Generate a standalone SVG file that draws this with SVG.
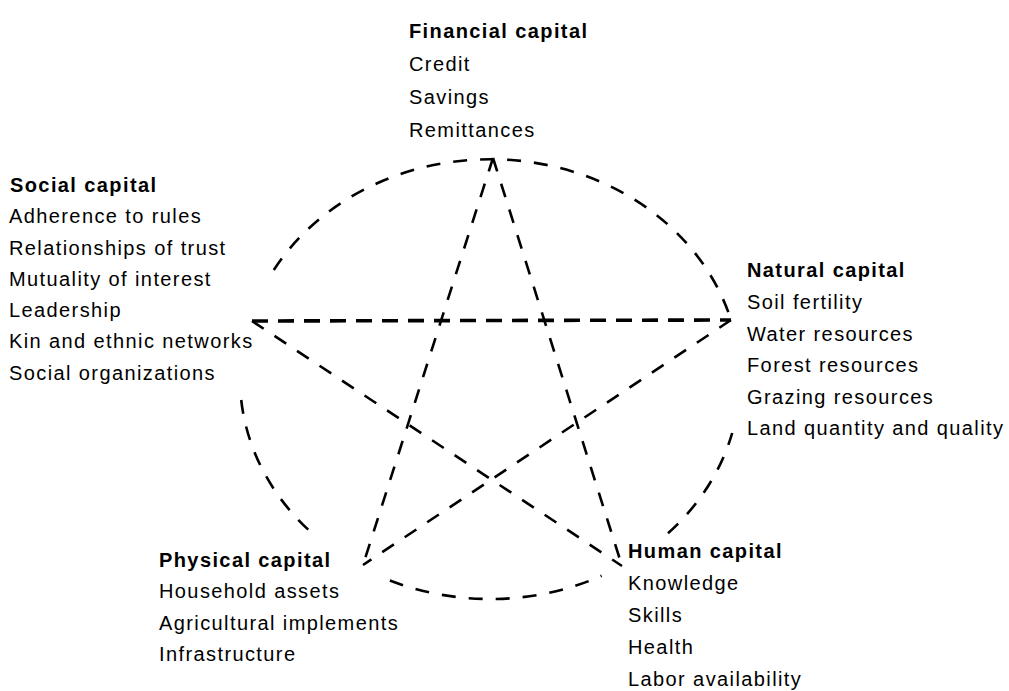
<svg xmlns="http://www.w3.org/2000/svg" width="1009" height="691" viewBox="0 0 1009 691">
<style>
text{font-family:"Liberation Sans",Arial,sans-serif;font-size:20px;fill:#000;letter-spacing:1.4px}
.t{font-weight:bold}
.d{fill:none;stroke:#000;stroke-width:2.6;stroke-dasharray:14 13}
.h{stroke-width:3.6;stroke-dasharray:16 10}
</style>
<rect width="1009" height="691" fill="#fff"/>
<g id="connectors">
<path class="d" d="M273.8,270 A250,221 0 0 1 731,320"/>
<path class="d" d="M241.2,400 A250,221 0 0 0 308.4,529.8"/>
<path class="d" d="M389.9,580.5 A250,221 0 0 0 601.6,575.8"/>
<path class="d" d="M668,533.2 A250,221 0 0 0 732.2,433"/>
<path class="d" d="M493,158 L363,565"/>
<path class="d" d="M493,158 L622,566"/>
<path class="d h" d="M252,321 L731,320"/>
<path class="d" d="M252,321 L622,566"/>
<path class="d" d="M731,320 L363,565"/>
</g>
<g id="financial">
<text class="t" x="409" y="38">Financial capital</text>
<text x="409" y="71">Credit</text>
<text x="409" y="104">Savings</text>
<text x="409" y="137">Remittances</text>
</g>
<g id="social">
<text class="t" x="10" y="192">Social capital</text>
<text x="9" y="223">Adherence to rules</text>
<text x="9" y="255">Relationships of trust</text>
<text x="9" y="286">Mutuality of interest</text>
<text x="9" y="317">Leadership</text>
<text x="9" y="348">Kin and ethnic networks</text>
<text x="9" y="380">Social organizations</text>
</g>
<g id="natural">
<text class="t" x="747" y="277">Natural capital</text>
<text x="747" y="309">Soil fertility</text>
<text x="747" y="341">Water resources</text>
<text x="747" y="372">Forest resources</text>
<text x="747" y="404">Grazing resources</text>
<text x="747" y="435">Land quantity and quality</text>
</g>
<g id="physical">
<text class="t" x="159" y="567">Physical capital</text>
<text x="159" y="598">Household assets</text>
<text x="159" y="630">Agricultural implements</text>
<text x="159" y="661">Infrastructure</text>
</g>
<g id="human">
<text class="t" x="628" y="558">Human capital</text>
<text x="628" y="590">Knowledge</text>
<text x="628" y="622">Skills</text>
<text x="628" y="654">Health</text>
<text x="628" y="686">Labor availability</text>
</g>
</svg>
